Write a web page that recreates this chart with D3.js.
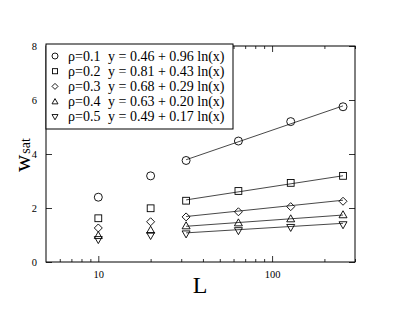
<!DOCTYPE html>
<html><head><meta charset="utf-8">
<script src="https://cdn.jsdelivr.net/npm/d3@7"></script>
<style>body{margin:0;background:#fff}svg{display:block}</style>
</head><body>
<script>
const Lvals = [10, 20, 32, 64, 128, 256];
const rhoLabels = ["ρ=0.1", "ρ=0.2", "ρ=0.3", "ρ=0.4", "ρ=0.5"];
const fitLabels = ["y = 0.46 + 0.96 ln(x)", "y = 0.81 + 0.43 ln(x)", "y = 0.68 + 0.29 ln(x)", "y = 0.63 + 0.20 ln(x)", "y = 0.49 + 0.17 ln(x)"];
const fitA = [0.46, 0.81, 0.68, 0.63, 0.49];
const fitB = [0.96, 0.43, 0.29, 0.20, 0.17];
const fitRange = [32, 256];
const w01 = [2.40, 3.19, 3.76, 4.48, 5.20, 5.75];
const w02 = [1.62, 1.99, 2.27, 2.63, 2.93, 3.19];
const w03 = [1.26, 1.49, 1.67, 1.86, 2.05, 2.25];
const w04 = [0.98, 1.18, 1.34, 1.45, 1.60, 1.75];
const w05 = [0.83, 0.98, 1.04, 1.16, 1.28, 1.38];
const series = [w01, w02, w03, w04, w05];
const symbols = ["circle", "square", "diamond", "up", "down"];
const yTicks = [0, 2, 4, 6, 8];
const xMajor = [10, 100];
const xMinor = [6,7,8,9,20,30,40,50,60,70,80,90,200,300];

(function(){
const W = 403, H = 312;
const m = {l: 46, r: 48, t: 46, b: 50};
const svg = d3.select("body").append("svg").attr("width", W).attr("height", H);
const x = d3.scaleLog().domain([5, 300]).range([m.l, W - m.r]);
const y = d3.scaleLinear().domain([0, 8]).range([H - m.b, m.t]);
const serif = "'Liberation Serif', 'Times New Roman', serif";

function sym(g, type, cx, cy, s) {
  let el;
  if (type === "circle") el = g.append("circle").attr("cx", cx).attr("cy", cy).attr("r", s);
  else if (type === "square") el = g.append("rect").attr("x", cx - s*0.85).attr("y", cy - s*0.85).attr("width", s*1.7).attr("height", s*1.7);
  else if (type === "diamond") el = g.append("path").attr("d", `M${cx},${cy-s}L${cx+s},${cy}L${cx},${cy+s}L${cx-s},${cy}Z`);
  else if (type === "up") el = g.append("path").attr("d", `M${cx},${cy-s}L${cx+s},${cy+s*0.75}L${cx-s},${cy+s*0.75}Z`);
  else el = g.append("path").attr("d", `M${cx},${cy+s}L${cx+s},${cy-s*0.75}L${cx-s},${cy-s*0.75}Z`);
  el.attr("fill", "none").attr("stroke", "#000").attr("stroke-width", 0.9);
}

svg.append("g").attr("transform", `translate(0,${H - m.b})`)
  .call(d3.axisBottom(x).tickValues(xMajor).tickSize(-6).tickPadding(9).tickFormat(d3.format("d")));
svg.append("g").attr("transform", `translate(0,${H - m.b})`)
  .call(d3.axisBottom(x).tickValues(xMinor).tickSize(-3).tickFormat(""));
svg.append("g").attr("transform", `translate(0,${m.t})`)
  .call(d3.axisTop(x).tickValues(xMajor).tickSize(-6).tickFormat(""));
svg.append("g").attr("transform", `translate(0,${m.t})`)
  .call(d3.axisTop(x).tickValues(xMinor).tickSize(-3).tickFormat(""));
svg.append("g").attr("transform", `translate(${m.l},0)`)
  .call(d3.axisLeft(y).tickValues(yTicks).tickSize(-6).tickPadding(9));
svg.append("g").attr("transform", `translate(${W - m.r},0)`)
  .call(d3.axisRight(y).tickValues(yTicks).tickSize(-6).tickFormat(""));
svg.selectAll(".domain").remove();
svg.selectAll(".tick line").attr("stroke", "#000").attr("stroke-width", 0.8);
svg.selectAll(".tick text").attr("font-family", serif).attr("font-size", 10.5).attr("fill", "#000");

svg.append("rect").attr("x", m.l).attr("y", m.t).attr("width", W - m.l - m.r).attr("height", H - m.t - m.b)
  .attr("fill", "none").attr("stroke", "#000").attr("stroke-width", 1);

const plot = svg.append("g");
fitA.forEach((a, i) => {
  const b = fitB[i];
  plot.append("line")
    .attr("x1", x(fitRange[0])).attr("y1", y(a + b * Math.log(fitRange[0])))
    .attr("x2", x(fitRange[1])).attr("y2", y(a + b * Math.log(fitRange[1])))
    .attr("stroke", "#333").attr("stroke-width", 0.9);
});
series.forEach((vals, i) => {
  vals.forEach((v, j) => sym(plot, symbols[i], x(Lvals[j]), y(v), 4));
});

const lg = svg.append("g");
lg.append("rect").attr("x", m.l).attr("y", 44).attr("width", 233 - m.l).attr("height", 85)
  .attr("fill", "#fff").attr("stroke", "#000").attr("stroke-width", 1);
rhoLabels.forEach((t, i) => {
  const cy = 56 + i * 15.2;
  sym(lg, symbols[i], 55, cy, 3);
  lg.append("text").attr("x", 68).attr("y", cy + 4.5).attr("font-family", serif).attr("font-size", 14).text(t);
  lg.append("text").attr("x", 108).attr("y", cy + 4.5).attr("font-family", serif).attr("font-size", 14).text(fitLabels[i]);
});

svg.append("text").attr("x", 200).attr("y", 293).attr("text-anchor", "middle")
  .attr("font-family", serif).attr("font-size", 24).text("L");
const yl = svg.append("text").attr("transform", "translate(30,172) rotate(-90)")
  .attr("font-family", serif).attr("font-size", 24);
yl.append("tspan").text("w");
yl.append("tspan").attr("font-size", 14).attr("dx", 1).text("sat");
})();
</script>
</body></html>
